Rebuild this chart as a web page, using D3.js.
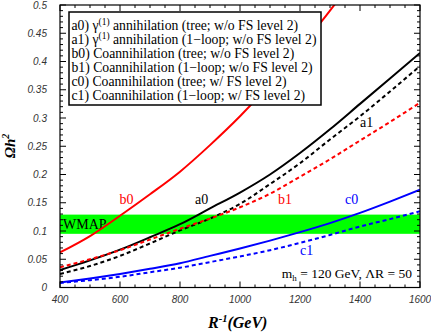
<!DOCTYPE html>
<html>
<head>
<meta charset="utf-8">
<script src="https://cdn.jsdelivr.net/npm/d3@7"></script>
<style>
  body { margin: 0; background: #fff; }
  .tick-lab { font-family: "Liberation Sans", Arial, sans-serif; font-style: italic; font-size: 10px; fill: #333; }
  .serif { font-family: "Liberation Serif", "Times New Roman", serif; }
</style>
</head>
<body>
<div id="plot"></div>
<script>
const w = 431, h = 333,
    margin = {top: 5, right: 11, bottom: 45.5, left: 60}

// R^-1 grid (GeV) shared by all curves
const rVals = [400, 500, 600, 700, 800, 900, 1000, 1100, 1200, 1300, 1400, 1500, 1600]
// Omega h^2
const a0 = [0.031, 0.048, 0.067, 0.089, 0.112, 0.140, 0.168, 0.200, 0.238, 0.280, 0.325, 0.370, 0.415]
const a1 = [0.024, 0.038, 0.056, 0.078, 0.101, 0.122, 0.148, 0.183, 0.220, 0.262, 0.303, 0.347, 0.392]
const b0R = [400, 500, 600, 700, 800, 900, 1000, 1100, 1200, 1300, 1320]
const b0 = [0.062, 0.091, 0.127, 0.165, 0.205, 0.252, 0.303, 0.360, 0.424, 0.490, 0.504]
const b1 = [0.036, 0.050, 0.066, 0.085, 0.104, 0.122, 0.142, 0.166, 0.196, 0.227, 0.260, 0.293, 0.327]
const c0 = [0.009, 0.016, 0.024, 0.033, 0.043, 0.056, 0.069, 0.083, 0.098, 0.114, 0.132, 0.152, 0.173]
const c1 = [0.008, 0.013, 0.019, 0.027, 0.035, 0.045, 0.055, 0.066, 0.079, 0.093, 0.108, 0.121, 0.135]
const wmap = [0.095, 0.129]

const xTicks = [400, 600, 800, 1000, 1200, 1400, 1600]
const yTicks = [0, 0.05, 0.1, 0.15, 0.2, 0.25, 0.3, 0.35, 0.4, 0.45, 0.5]
const yTickLabels = ["0", "0.05", "0.1", "0.15", "0.2", "0.25", "0.3", "0.35", "0.4", "0.45", "0.5"]

const legendItems = [
  {tag: "a0)", gamma: true, txt: " annihilation (tree; w/o FS level 2)"},
  {tag: "a1)", gamma: true, txt: " annihilation (1\u2212loop; w/o FS level 2)"},
  {tag: "b0)", gamma: false, txt: " Coannihilation (tree; w/o FS level 2)"},
  {tag: "b1)", gamma: false, txt: " Coannihilation (1\u2212loop; w/o FS level 2)"},
  {tag: "c0)", gamma: false, txt: " Coannihilation (tree; w/ FS level 2)"},
  {tag: "c1)", gamma: false, txt: " Coannihilation (1\u2212loop; w/ FS level 2)"}
]

const series = [
  {name: "b0", r: b0R, v: b0, color: "#ff0000", dash: null, lab: [622, 0.157]},
  {name: "a0", r: rVals, v: a0, color: "#000000", dash: null, lab: [872, 0.157]},
  {name: "a1", r: rVals, v: a1, color: "#000000", dash: "4,3", lab: [1422, 0.293]},
  {name: "b1", r: rVals, v: b1, color: "#ff0000", dash: "4,3", lab: [1150, 0.157]},
  {name: "c0", r: rVals, v: c0, color: "#0000ff", dash: null, lab: [1372, 0.157]},
  {name: "c1", r: rVals, v: c1, color: "#0000ff", dash: "4,3", lab: [1222, 0.066]}
]

const x = d3.scaleLinear().domain([400, 1600]).range([margin.left, w - margin.right]),
    y = d3.scaleLinear().domain([0, 0.5]).range([h - margin.bottom, margin.top])

const svg = d3.select("#plot").append("svg")
  .attr("width", w)
  .attr("height", h)

svg.append("clipPath")
  .attr("id", "rect-clip")
  .append("rect")
  .attr("x", x(400))
  .attr("y", y(0.5))
  .attr("width", x(1600) - x(400))
  .attr("height", y(0) - y(0.5))

// WMAP band
svg.append("rect")
  .attr("x", x(400))
  .attr("width", x(1600) - x(400))
  .attr("y", y(wmap[1]))
  .attr("height", y(wmap[0]) - y(wmap[1]))
  .attr("fill", "#00ff00")

svg.append("text")
  .attr("class", "serif")
  .attr("x", x(400) + 3)
  .attr("y", y(0.112) + 5)
  .style("font-size", "14px")
  .text("WMAP")

// curves
const line = d3.line().curve(d3.curveMonotoneX)
series.forEach(s => {
  svg.append("path")
    .datum(s.r.map((r, i) => [x(r), y(s.v[i])]))
    .attr("d", line)
    .attr("fill", "none")
    .attr("stroke", s.color)
    .attr("stroke-width", 2)
    .attr("stroke-dasharray", s.dash)
    .attr("clip-path", "url(#rect-clip)")
  svg.append("text")
    .attr("class", "serif")
    .attr("x", x(s.lab[0]))
    .attr("y", y(s.lab[1]) + 5)
    .attr("text-anchor", "middle")
    .style("font-size", "14px")
    .attr("fill", s.color)
    .text(s.name)
})

// frame + ticks on all four sides (pointing in)
const tickG = svg.append("g").attr("stroke", "#000").attr("stroke-width", 1)
d3.range(400, 1601, 50).forEach(v => {
  const len = v % 200 === 0 ? 6 : 3
  tickG.append("line").attr("x1", x(v)).attr("x2", x(v)).attr("y1", y(0)).attr("y2", y(0) - len)
  tickG.append("line").attr("x1", x(v)).attr("x2", x(v)).attr("y1", y(0.5)).attr("y2", y(0.5) + len)
})
d3.range(0, 51, 1).forEach(k => {
  const v = k / 100, len = k % 5 === 0 ? 6 : 3
  tickG.append("line").attr("x1", x(400)).attr("x2", x(400) + len).attr("y1", y(v)).attr("y2", y(v))
  tickG.append("line").attr("x1", x(1600)).attr("x2", x(1600) - len).attr("y1", y(v)).attr("y2", y(v))
})

// legend box, drawn over the curves
const lg = svg.append("g")
lg.append("rect")
  .attr("x", 69).attr("y", 12)
  .attr("width", 252).attr("height", 93)
  .attr("fill", "#fff")
  .attr("stroke", "#000")
  .attr("stroke-width", 1.5)
legendItems.forEach((d, i) => {
  const t = lg.append("text")
    .attr("class", "serif")
    .attr("x", 71.5)
    .attr("y", 29.8 + i * 14.1)
    .style("font-size", "13.7px")
  t.append("tspan").text(d.tag + " ")
  if (d.gamma) {
    t.append("tspan").text("\u03b3")
    t.append("tspan").attr("dy", -5).style("font-size", "9.5px").text("(1)")
    t.append("tspan").attr("dy", 5).text(d.txt)
  } else {
    t.append("tspan").text(d.txt.trim())
  }
})

svg.append("rect")
  .attr("x", x(400)).attr("y", y(0.5))
  .attr("width", x(1600) - x(400)).attr("height", y(0) - y(0.5))
  .attr("fill", "none").attr("stroke", "#000").attr("stroke-width", 1.2)

// tick labels
svg.selectAll(".xlab").data(xTicks).join("text")
  .attr("class", "tick-lab")
  .attr("x", d => x(d))
  .attr("y", y(0) + 15)
  .attr("text-anchor", "middle")
  .text(d => d)

svg.selectAll(".ylab").data(yTicks).join("text")
  .attr("class", "tick-lab")
  .attr("x", x(400) - 13)
  .attr("y", d => y(d) + 3.5)
  .attr("text-anchor", "end")
  .text((d, i) => yTickLabels[i])

// annotation
const ann = svg.append("text")
  .attr("class", "serif")
  .attr("x", x(1600) - 8)
  .attr("y", y(0) - 10)
  .attr("text-anchor", "end")
  .style("font-size", "13.5px")
ann.append("tspan").text("m")
ann.append("tspan").attr("dy", 3).style("font-size", "9px").text("h")
ann.append("tspan").attr("dy", -3).text(" = 120 GeV, \u039bR = 50")

// axis titles
const xt = svg.append("text")
  .attr("class", "serif")
  .attr("x", 208)
  .attr("y", 328)
  .style("font-size", "16px")
  .style("font-weight", "bold")
  .style("font-style", "italic")
xt.append("tspan").text("R")
xt.append("tspan").attr("dy", -6).style("font-size", "10.5px").text("-1")
xt.append("tspan").attr("dy", 6).text("(GeV)")

const yt = svg.append("text")
  .attr("class", "serif")
  .attr("transform", "translate(15,146) rotate(-90)")
  .attr("text-anchor", "middle")
  .style("font-size", "15px")
  .style("font-weight", "bold")
  .style("font-style", "italic")
yt.append("tspan").text("\u03a9h")
yt.append("tspan").attr("dy", -6).style("font-size", "10px").text("2")
</script>
</body>
</html>
